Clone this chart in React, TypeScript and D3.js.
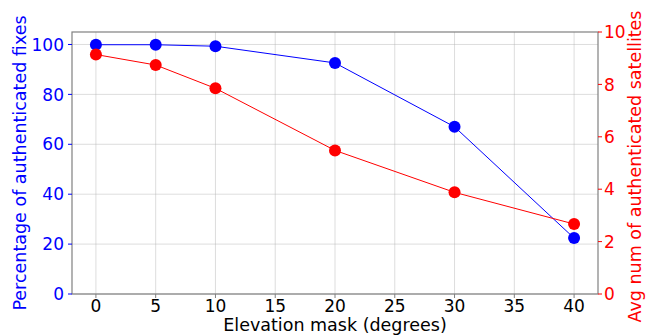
import React from 'react';
import * as d3 from 'd3';

const elevations = [0, 5, 10, 20, 30, 40];
const fixPct = [99.9, 99.9, 99.3, 92.6, 67.0, 22.4];
const avgSats = [9.14, 8.74, 7.85, 5.48, 3.88, 2.67];
const xTicks = [0, 5, 10, 15, 20, 25, 30, 35, 40];
const leftTicks = [0, 20, 40, 60, 80, 100];
const rightTicks = [0, 2, 4, 6, 8, 10];

const W = 653;
const H = 336;
const margin = { top: 32, right: 55, bottom: 42, left: 72 };

export default function App() {
  const iw = W - margin.left - margin.right;
  const ih = H - margin.top - margin.bottom;

  const x = d3.scaleLinear().domain([-2, 42]).range([0, iw]);
  const yL = d3.scaleLinear().domain([0, 105]).range([ih, 0]);
  const yR = d3.scaleLinear().domain([0, 10]).range([ih, 0]);

  const blueLine = d3.line<number>()
    .x((_, i) => x(elevations[i]))
    .y(d => yL(d));
  const redLine = d3.line<number>()
    .x((_, i) => x(elevations[i]))
    .y(d => yR(d));

  const font = 'DejaVu Sans, sans-serif';
  const tickFs = 17;
  const labelFs = 17.5;

  return (
    <svg width={W} height={H} style={{ position: 'fixed', left: 0, top: 0, background: '#fff' }} fontFamily={font}>
      <g transform={`translate(${margin.left},${margin.top})`}>
        {/* grid */}
        {xTicks.map(t => (
          <line key={'gx' + t} x1={x(t)} x2={x(t)} y1={0} y2={ih} stroke="#b0b0b0" strokeOpacity={0.55} strokeWidth={0.8} />
        ))}
        {leftTicks.map(t => (
          <line key={'gy' + t} x1={0} x2={iw} y1={yL(t)} y2={yL(t)} stroke="#b0b0b0" strokeOpacity={0.55} strokeWidth={0.8} />
        ))}

        {/* series */}
        <path d={blueLine(fixPct) || ''} fill="none" stroke="#0000ff" strokeWidth={1} />
        <path d={redLine(avgSats) || ''} fill="none" stroke="#ff0000" strokeWidth={1} />
        {fixPct.map((v, i) => (
          <circle key={'b' + i} cx={x(elevations[i])} cy={yL(v)} r={6} fill="#0000ff" />
        ))}
        {avgSats.map((v, i) => (
          <circle key={'r' + i} cx={x(elevations[i])} cy={yR(v)} r={6} fill="#ff0000" />
        ))}

        {/* frame */}
        <rect x={0} y={0} width={iw} height={ih} fill="none" stroke="#808080" strokeWidth={1.2} />

        {/* x ticks */}
        {xTicks.map(t => (
          <g key={'xt' + t} transform={`translate(${x(t)},${ih})`}>
            <line y1={0} y2={4} stroke="#808080" />
            <text y={18} textAnchor="middle" fontSize={tickFs} fill="#000">{t}</text>
          </g>
        ))}
        {/* left ticks */}
        {leftTicks.map(t => (
          <g key={'lt' + t} transform={`translate(0,${yL(t)})`}>
            <line x1={-4} x2={0} stroke="#0000ff" />
            <text x={-8} dy="0.36em" textAnchor="end" fontSize={tickFs} fill="#0000ff">{t}</text>
          </g>
        ))}
        {/* right ticks */}
        {rightTicks.map(t => (
          <g key={'rt' + t} transform={`translate(${iw},${yR(t)})`}>
            <line x1={0} x2={4} stroke="#ff0000" />
            <text x={6} dy="0.36em" textAnchor="start" fontSize={tickFs} fill="#ff0000">{t}</text>
          </g>
        ))}

        {/* labels */}
        <text x={iw / 2} y={ih + 37} textAnchor="middle" fontSize={labelFs} fill="#000">Elevation mask (degrees)</text>
        <text transform={`translate(${-46},${ih / 2}) rotate(-90)`} textAnchor="middle" fontSize={labelFs} fill="#0000ff">
          Percentage of authenticated fixes
        </text>
        <text transform={`translate(${iw + 43},${ih / 2 + 3.5}) rotate(-90)`} textAnchor="middle" fontSize={labelFs} fill="#ff0000">
          Avg num of authenticated satellites
        </text>
      </g>
    </svg>
  );
}
